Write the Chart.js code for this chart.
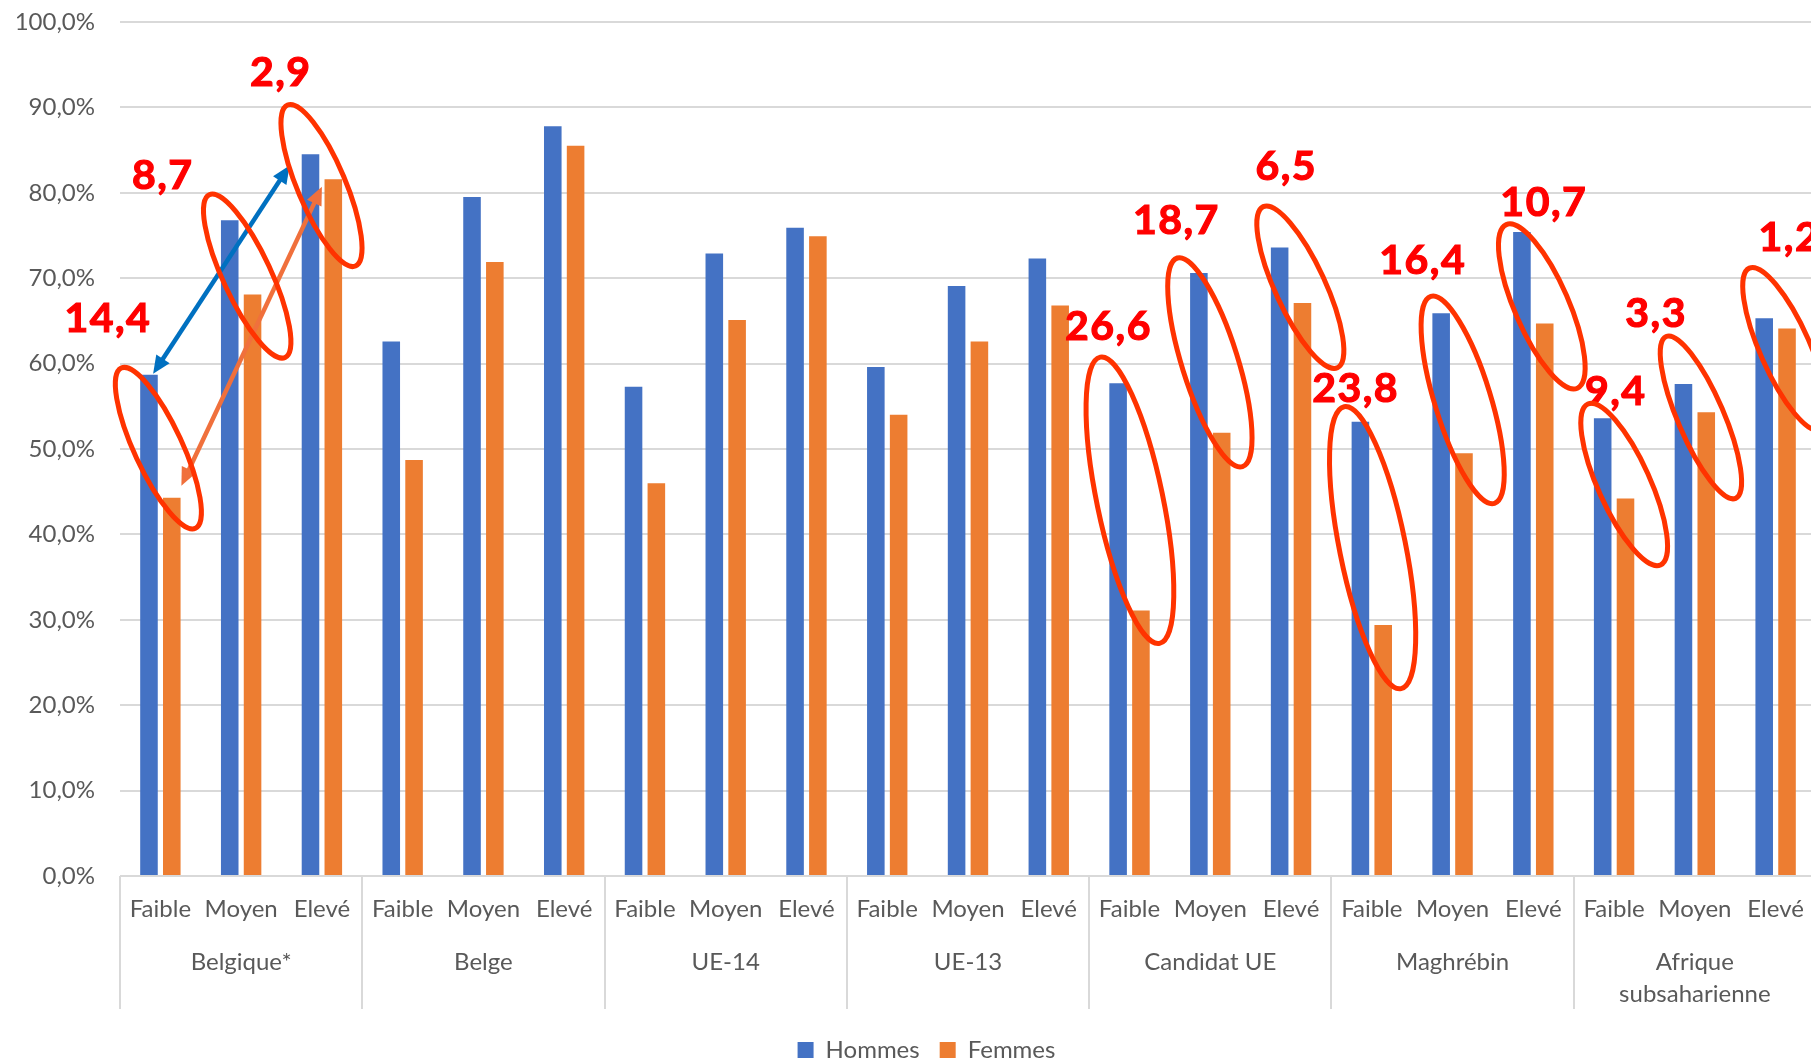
<!DOCTYPE html>
<html>
<head>
<meta charset="utf-8">
<script src="https://cdn.jsdelivr.net/npm/chart.js@4.4.1/dist/chart.umd.min.js"></script>
<style>
  html, body { margin: 0; padding: 0; background: #fff; overflow: hidden; }
  #wrap { width: 1852px; height: 1072px; }
</style>
</head>
<body>
<div id="wrap"><canvas id="chart" width="1852" height="1072"></canvas></div>
<script>
// --- DATA ---
const levels = ['Faible', 'Moyen', 'Elevé'];
const groups = ['Belgique*', 'Belge', 'UE-14', 'UE-13', 'Candidat UE', 'Maghrébin', ['Afrique', 'subsaharienne']];
const categories = groups.flatMap(() => levels);

const hommes = [58.7, 76.8, 84.5, 62.6, 79.5, 87.8, 57.3, 72.9, 75.9, 59.6, 69.1, 72.3, 57.7, 70.6, 73.6, 53.2, 65.9, 75.4, 53.6, 57.6, 65.3];
const femmes = [44.3, 68.1, 81.6, 48.7, 71.9, 85.5, 46.0, 65.1, 74.9, 54.0, 62.6, 66.8, 31.1, 51.9, 67.1, 29.4, 49.5, 64.7, 44.2, 54.3, 64.1];

// gap labels (hommes - femmes) and the category they sit on
const gapCats = [0, 1, 2, 12, 13, 14, 15, 16, 17, 18, 19, 20];
const gapTexts = ['14,4', '8,7', '2,9', '26,6', '18,7', '6,5', '23,8', '16,4', '10,7', '9,4', '3,3', '1,2'];

// --- ANNOTATION LAYOUT (category offset, value) ---
// t: label centre, e: ellipse major axis ends, b: half width in px
const notes = [
  { t: [-0.65, 65.4], e: [-0.50, 59.8, 0.45, 40.4], b: 24 },
  { t: [-0.97, 82.2], e: [-0.41, 80.1, 0.56, 60.4], b: 24 },
  { t: [-0.51, 94.3], e: [-0.44, 90.6, 0.43, 71.1], b: 24 },
  { t: [-0.26, 64.5], e: [-0.37, 61.1, 0.38, 26.9], b: 33 },
  { t: [-0.42, 76.9], e: [-0.42, 72.7, 0.41, 47.6], b: 28 },
  { t: [-0.06, 83.3], e: [-0.36, 78.7, 0.59, 59.2], b: 25 },
  { t: [-0.20, 57.3], e: [-0.35, 55.3, 0.37, 21.6], b: 33 },
  { t: [-0.37, 72.2], e: [-0.28, 68.2, 0.53, 43.3], b: 28 },
  { t: [0.13, 79.0], e: [-0.35, 76.6, 0.56, 56.8], b: 27 },
  { t: [0.02, 56.9], e: [-0.34, 55.6, 0.59, 36.1], b: 26 },
  { t: [-0.48, 66.1], e: [-0.37, 63.5, 0.52, 43.9], b: 23 },
  { t: [0.17, 75.0], e: [-0.34, 71.5, 0.58, 51.9], b: 25 }
];

// double arrows across Belgique* (cat, offset, value) -> (cat, offset, value)
const arrows = [
  { from: [0, -0.09, 58.8], to: [2, -0.40, 83.2], color: '#0070C0' },
  { from: [0, 0.26, 45.7], to: [2, 0.0, 80.7], color: '#F0703C' }
];

const GRAY = '#595959';
const FONT = 'Lato';

function drawArrowHead(ctx, x, y, ang, len, w) {
  ctx.beginPath();
  ctx.moveTo(x, y);
  ctx.lineTo(x - len * Math.cos(ang) + w / 2 * Math.sin(ang), y - len * Math.sin(ang) - w / 2 * Math.cos(ang));
  ctx.lineTo(x - len * Math.cos(ang) - w / 2 * Math.sin(ang), y - len * Math.sin(ang) + w / 2 * Math.cos(ang));
  ctx.closePath();
  ctx.fill();
}

// legend sits centred on the whole picture, not between the paddings
const legendShift = {
  id: 'legendShift',
  afterLayout(chart) {
    chart.legend.left += 10;
    chart.legend.right += 10;
  }
};

const separatorPlugin = {
  id: 'separators',
  afterDraw(chart) {
    const { ctx, chartArea } = chart;
    const x = chart.scales.x;
    const cw = x.getPixelForValue(1) - x.getPixelForValue(0);
    ctx.save();
    ctx.strokeStyle = '#D9D9D9';
    ctx.lineWidth = 2;
    for (let g = 0; g <= groups.length; g++) {
      const px = Math.round(x.getPixelForValue(g * 3) - cw / 2);
      ctx.beginPath();
      ctx.moveTo(px, chartArea.bottom);
      ctx.lineTo(px, chartArea.bottom + 133);
      ctx.stroke();
    }
    ctx.restore();
  }
};

const annotatePlugin = {
  id: 'annotate',
  afterDatasetsDraw(chart) {
    const { ctx } = chart;
    const x = chart.scales.x, y = chart.scales.y;
    const cw = x.getPixelForValue(1) - x.getPixelForValue(0);
    const px = (cat, dx) => x.getPixelForValue(cat) + dx * cw;
    ctx.save();

    // arrows
    arrows.forEach(a => {
      const x1 = px(a.from[0], a.from[1]), y1 = y.getPixelForValue(a.from[2]);
      const x2 = px(a.to[0], a.to[1]), y2 = y.getPixelForValue(a.to[2]);
      const ang = Math.atan2(y2 - y1, x2 - x1);
      const head = 18;
      ctx.strokeStyle = a.color;
      ctx.fillStyle = a.color;
      ctx.lineWidth = 4.5;
      ctx.beginPath();
      ctx.moveTo(x1 + head * 0.8 * Math.cos(ang), y1 + head * 0.8 * Math.sin(ang));
      ctx.lineTo(x2 - head * 0.8 * Math.cos(ang), y2 - head * 0.8 * Math.sin(ang));
      ctx.stroke();
      drawArrowHead(ctx, x2, y2, ang, head, 16);
      drawArrowHead(ctx, x1, y1, ang + Math.PI, head, 16);
    });

    // gap labels
    ctx.fillStyle = '#FF0000';
    ctx.strokeStyle = '#FF0000';
    ctx.lineWidth = 1.2;
    ctx.font = 'bold 41px ' + FONT;
    ctx.letterSpacing = '1.5px';
    ctx.textAlign = 'center';
    ctx.textBaseline = 'alphabetic';
    notes.forEach((n, i) => {
      const tx = px(gapCats[i], n.t[0]), ty = y.getPixelForValue(n.t[1]) + 15;
      ctx.fillText(gapTexts[i], tx, ty);
      ctx.strokeText(gapTexts[i], tx, ty);
    });

    // ellipses
    ctx.strokeStyle = '#FF3300';
    ctx.lineWidth = 5;
    notes.forEach((n, i) => {
      const x1 = px(gapCats[i], n.e[0]), y1 = y.getPixelForValue(n.e[1]);
      const x2 = px(gapCats[i], n.e[2]), y2 = y.getPixelForValue(n.e[3]);
      const a = Math.hypot(x2 - x1, y2 - y1) / 2 - 3;
      ctx.beginPath();
      ctx.ellipse((x1 + x2) / 2, (y1 + y2) / 2, a, n.b, Math.atan2(y2 - y1, x2 - x1), 0, Math.PI * 2);
      ctx.stroke();
    });
    ctx.restore();
  }
};

const tickFont = { family: FONT, size: 24 };

new Chart(document.getElementById('chart'), {
  type: 'bar',
  data: {
    labels: categories,
    datasets: [
      { label: 'Hommes', data: hommes, backgroundColor: '#4472C4', xAxisID: 'x', categoryPercentage: 0.565, barPercentage: 0.77 },
      { label: 'Femmes', data: femmes, backgroundColor: '#ED7D31', xAxisID: 'x', categoryPercentage: 0.565, barPercentage: 0.77 }
    ]
  },
  options: {
    responsive: false,
    animation: false,
    devicePixelRatio: 1,
    layout: { padding: { left: 17, top: 22, right: 36, bottom: 0 } },
    plugins: {
      tooltip: { enabled: false },
      legend: {
        position: 'bottom',
        labels: { boxWidth: 16, boxHeight: 16, color: GRAY, font: tickFont, padding: 20 }
      }
    },
    scales: {
      x: {
        grid: { display: false },
        border: { display: false },
        ticks: { autoSkip: false, maxRotation: 0, color: GRAY, font: tickFont, padding: 11 },
        afterFit: s => { s.height = 55; }
      },
      x2: {
        type: 'category',
        labels: groups,
        position: 'bottom',
        offset: true,
        grid: { display: false },
        border: { display: false },
        ticks: { autoSkip: false, maxRotation: 0, color: GRAY, font: { family: FONT, size: 24, lineHeight: 1.3 }, padding: 8 },
        afterFit: s => { s.height = 87; }
      },
      y: {
        min: 0,
        max: 100,
        ticks: {
          stepSize: 10,
          color: GRAY,
          font: tickFont,
          padding: 25,
          callback: v => v.toFixed(1).replace('.', ',') + '%'
        },
        grid: { color: '#D9D9D9', lineWidth: 2, drawTicks: false },
        border: { display: false },
        afterFit: s => { s.width = 103; s.paddingTop = 0; s.paddingBottom = 0; }
      }
    }
  },
  plugins: [legendShift, separatorPlugin, annotatePlugin]
});
</script>
</body>
</html>
